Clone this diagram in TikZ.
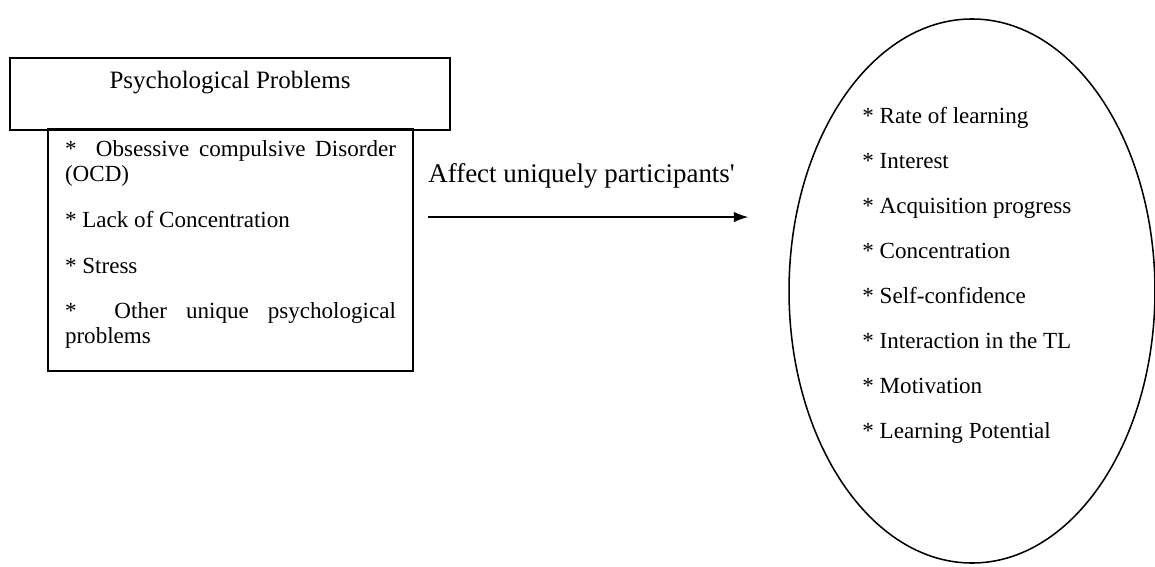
\documentclass[tikz,border=0pt]{standalone}
\usepackage{fontspec}
\setmainfont{Liberation Serif}
\usetikzlibrary{shapes.geometric, arrows.meta}
\hyphenpenalty=10000
\tikzstyle{header} = [rectangle, minimum width=228.8pt, minimum height=37.4pt, text height=15.6pt, text depth=21.8pt, inner sep=0pt, text centered, draw=black, thick, font=\fontsize{13}{15}\selectfont]
\tikzstyle{listbox} = [rectangle, minimum width=189.8pt, minimum height=125.8pt, text width=172.1pt, inner xsep=8.85pt, inner ysep=0pt, text height=14.5pt, text depth=111.3pt, align=justify, draw=black, thick, font=\fontsize{12}{13}\selectfont]
\tikzstyle{bubble} = [ellipse, minimum width=190.3pt, minimum height=282.9pt, inner sep=0pt, draw=black, thick]
\tikzstyle{items} = [inner sep=0pt, align=left, font=\fontsize{12}{23.4}\selectfont]
\tikzstyle{arrowlabel} = [inner sep=0pt, font=\fontsize{14}{17}\selectfont]
\tikzstyle{arrow} = [thick,-{Latex[length=7.5pt,width=5.5pt]}]

\begin{document}
\begin{tikzpicture}[x=0.52pt, y=-0.52pt]
        \useasboundingbox (0,0) rectangle (1155,567);
        \node (title) [header] at (230,94) {Psychological Problems};
        \node (symptoms) [listbox] at (230.5,250) {* \ Obsessive compulsive Disorder\linebreak (OCD)\\[10.7pt]
            * Lack of Concentration\\[10.7pt]
            * Stress\\[10.7pt]
            * \ Other unique psychological\linebreak problems};
        \node (oval) [bubble] at (972,291) {};
        \node (outcomes) [items, anchor=north west] at (862,107) {* Rate of learning\\
            * Interest\\
            * Acquisition progress\\
            * Concentration\\
            * Self-confidence\\
            * Interaction in the TL\\
            * Motivation\\
            * Learning Potential};
        \node (effect) [arrowlabel, anchor=base west] at (428,183) {Affect uniquely participants\textquotesingle};

        \draw [arrow] ([yshift=-17.7pt]effect.base west) -- ([xshift=6.8pt,yshift=-17.7pt]effect.base east);
    \end{tikzpicture}
\end{document}
